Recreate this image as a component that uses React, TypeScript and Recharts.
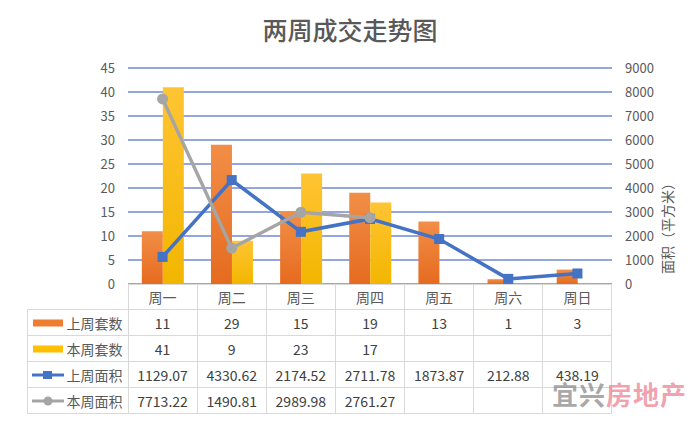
import React from "react";
import {
  ComposedChart,
  Bar,
  Line,
  XAxis,
  YAxis,
  CartesianGrid,
} from "recharts";

const days = ["周一", "周二", "周三", "周四", "周五", "周六", "周日"];
const lastWeekUnits = [11, 29, 15, 19, 13, 1, 3];
const thisWeekUnits = [41, 9, 23, 17, null, null, null];
const lastWeekArea = [1129.07, 4330.62, 2174.52, 2711.78, 1873.87, 212.88, 438.19];
const thisWeekArea = [7713.22, 1490.81, 2989.98, 2761.27, null, null, null];

const leftTicks = [0, 5, 10, 15, 20, 25, 30, 35, 40, 45];
const rightTicks = [0, 1000, 2000, 3000, 4000, 5000, 6000, 7000, 8000, 9000];

const FONT = '"Noto Sans CJK SC", "Noto Sans", sans-serif';
const TEXT = "#595959";

const PLOT_LEFT = 128;
const PLOT_RIGHT = 612;
const PLOT_BOTTOM = 284;
const COL_W = (PLOT_RIGHT - PLOT_LEFT) / days.length;

const data = days.map((d, i) => ({
  day: d,
  lastUnits: lastWeekUnits[i],
  thisUnits: thisWeekUnits[i],
  lastArea: lastWeekArea[i],
  thisArea: thisWeekArea[i],
}));

// rows of the data table under the chart
const rows = [
  { name: "上周套数", values: lastWeekUnits, key: "orange" },
  { name: "本周套数", values: thisWeekUnits, key: "yellow" },
  { name: "上周面积", values: lastWeekArea, key: "blue" },
  { name: "本周面积", values: thisWeekArea, key: "gray" },
];

const BORDER = "#d9d9d9";

function LegendKey({ kind }: { kind: string }) {
  return (
    <svg width={34} height={14} style={{ display: "block" }}>
      {kind === "orange" && <rect x={2} y={3.5} width={30} height={7} fill="#ED7D31" />}
      {kind === "yellow" && <rect x={2} y={3.5} width={30} height={7} fill="#FFC000" />}
      {kind === "blue" && (
        <g>
          <line x1={1} y1={7} x2={33} y2={7} stroke="#4472C4" strokeWidth={3} />
          <rect x={12} y={3} width={9} height={8} fill="#4472C4" />
        </g>
      )}
      {kind === "gray" && (
        <g>
          <line x1={1} y1={7} x2={33} y2={7} stroke="#A5A5A5" strokeWidth={3} />
          <circle cx={17} cy={7} r={4.5} fill="#A5A5A5" />
        </g>
      )}
    </svg>
  );
}

function SquareDot(props: any) {
  const { cx, cy, index } = props;
  if (cx == null || cy == null) return <g key={`sq-${index}`} />;
  return <rect key={`sq-${index}`} x={cx - 5} y={cy - 5} width={10} height={10} fill="#4472C4" />;
}

function RoundDot(props: any) {
  const { cx, cy, index, value } = props;
  if (cx == null || cy == null || value == null) return <g key={`rd-${index}`} />;
  return <circle key={`rd-${index}`} cx={cx} cy={cy} r={5.5} fill="#A5A5A5" />;
}

export default function App() {
  const headerH = 25;
  const rowH = 26;
  const cell = (left: number, top: number, w: number, h: number, content: any, key: string, extra: any = {}) => (
    <div
      key={key}
      style={{
        position: "absolute",
        left,
        top,
        width: w,
        height: h,
        boxSizing: "border-box",
        border: `1px solid ${BORDER}`,
        marginLeft: -0.5,
        display: "flex",
        alignItems: "center",
        justifyContent: "center",
        fontSize: 14,
        color: "#404040",
        ...extra,
      }}
    >
      {content}
    </div>
  );

  return (
    <div
      style={{
        position: "absolute",
        left: 0,
        top: 0,
        width: 700,
        height: 424,
        background: "#fff",
        fontFamily: FONT,
        overflow: "hidden",
      }}
    >
      <div
        style={{
          position: "absolute",
          left: 0,
          top: 11,
          width: 700,
          textAlign: "center",
          fontSize: 25,
          fontWeight: 500,
          color: TEXT,
        }}
      >
        两周成交走势图
      </div>

      <ComposedChart
        width={700}
        height={424}
        data={data}
        margin={{ top: 68, right: 28, bottom: 424 - PLOT_BOTTOM, left: 88 }}
        barCategoryGap="20%"
        barGap={0}
        style={{ position: "absolute", left: 0, top: 0 }}
      >
        <CartesianGrid vertical={false} stroke="#7088D8" strokeWidth={1.3} yAxisId="left" />
        <XAxis dataKey="day" hide />
        <YAxis
          yAxisId="left"
          width={40}
          domain={[0, 45]}
          ticks={leftTicks}
          axisLine={false}
          tickLine={false}
          tickMargin={7}
          tick={{ fill: TEXT, fontSize: 13, fontFamily: FONT }}
        />
        <YAxis
          yAxisId="right"
          orientation="right"
          width={60}
          domain={[0, 9000]}
          ticks={rightTicks}
          axisLine={false}
          tickLine={false}
          tickMargin={7}
          tick={{ fill: TEXT, fontSize: 13, fontFamily: FONT }}
          label={{
            value: "面积（平方米）",
            angle: -90,
            position: "insideRight",
            offset: 4,
            fill: TEXT,
            fontSize: 14,
            fontFamily: FONT,
          }}
        />
        <defs>
          <linearGradient id="gOrange" x1="0" y1="0" x2="0" y2="1">
            <stop offset="0%" stopColor="#F28E47" />
            <stop offset="100%" stopColor="#E56B1F" />
          </linearGradient>
          <linearGradient id="gYellow" x1="0" y1="0" x2="0" y2="1">
            <stop offset="0%" stopColor="#FFC433" />
            <stop offset="100%" stopColor="#F2B600" />
          </linearGradient>
        </defs>
        <Bar yAxisId="left" dataKey="lastUnits" fill="url(#gOrange)" isAnimationActive={false} />
        <Bar yAxisId="left" dataKey="thisUnits" fill="url(#gYellow)" isAnimationActive={false} />
        <Line
          yAxisId="right"
          dataKey="lastArea"
          stroke="#4472C4"
          strokeWidth={3.5}
          dot={SquareDot}
          activeDot={false}
          isAnimationActive={false}
        />
        <Line
          yAxisId="right"
          dataKey="thisArea"
          stroke="#A5A5A5"
          strokeWidth={3.5}
          dot={RoundDot}
          activeDot={false}
          isAnimationActive={false}
        />
      </ComposedChart>

      {/* header row with day names */}
      {days.map((d, i) =>
        cell(PLOT_LEFT + i * COL_W, PLOT_BOTTOM, COL_W + 1, headerH + 1, d, `h-${i}`, { color: TEXT })
      )}

      {rows.map((r, ri) => {
        const top = PLOT_BOTTOM + headerH + ri * rowH;
        return (
          <React.Fragment key={r.name}>
            {cell(
              27,
              top,
              PLOT_LEFT - 27 + 1,
              rowH + 1,
              <div style={{ display: "flex", alignItems: "center", width: "100%", paddingLeft: 3 }}>
                <LegendKey kind={r.key} />
                <span style={{ marginLeft: 2, fontSize: 14, color: TEXT }}>{r.name}</span>
              </div>,
              `l-${ri}`
            )}
            {r.values.map((v, i) =>
              cell(PLOT_LEFT + i * COL_W, top, COL_W + 1, rowH + 1, v == null ? "" : String(v), `c-${ri}-${i}`)
            )}
          </React.Fragment>
        );
      })}

      <div
        style={{
          position: "absolute",
          left: 552,
          top: 381,
          fontSize: 26,
          lineHeight: "26px",
          fontWeight: 700,
          letterSpacing: 1,
          whiteSpace: "nowrap",
        }}
      >
        <span style={{ color: "rgba(140,140,140,0.75)" }}>宜兴</span>
        <span style={{ color: "rgba(236,120,140,0.7)" }}>房地产</span>
      </div>
    </div>
  );
}
